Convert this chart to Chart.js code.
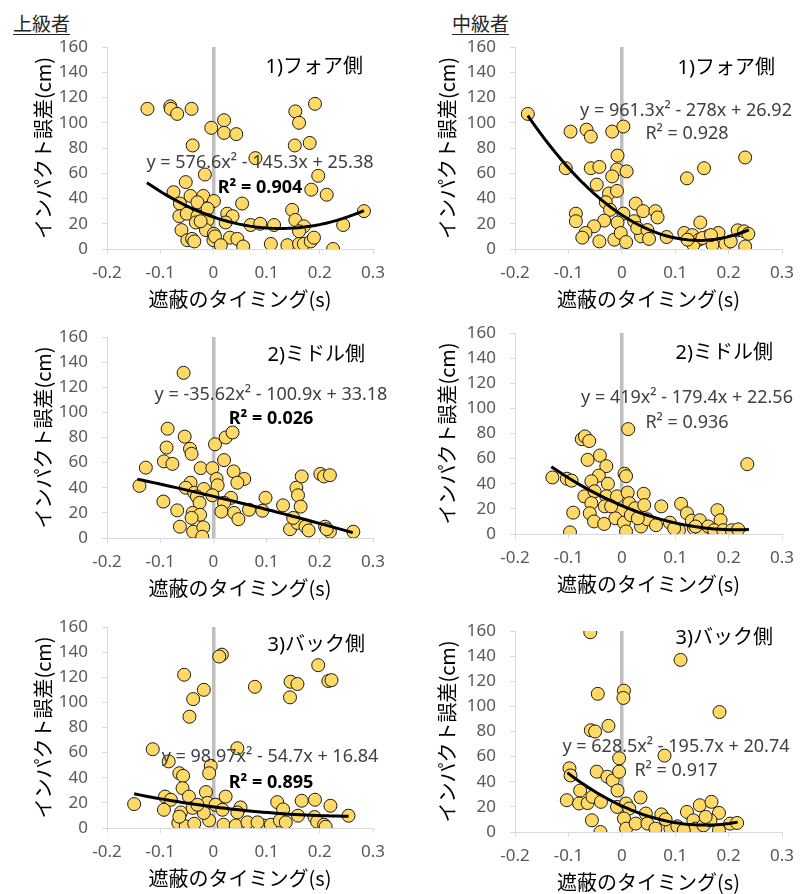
<!DOCTYPE html>
<html>
<head>
<meta charset="utf-8">
<script src="https://cdn.jsdelivr.net/npm/chart.js@4"></script>
<style>
body { margin: 0; background: #fff; width: 802px; height: 894px; position: relative; overflow: hidden; }
canvas { position: absolute; }
.head { position: absolute; top: 12px; font: 19px/22px 'Noto Sans CJK JP', sans-serif; color: #262626; text-decoration: underline; text-underline-offset: 3px; }
</style>
</head>
<body>
<div class="head" style="left:13px">上級者</div>
<div class="head" style="left:452px">中級者</div>
<script>
// x: 遮蔽のタイミング(s), y: インパクト誤差(cm)
var xTicks = [-0.2, -0.1, 0, 0.1, 0.2, 0.3];
var yTicks = [0, 20, 40, 60, 80, 100, 120, 140, 160];

// 上級者 1)フォア側
var advFore = [[-0.124,111],[-0.081,113],[-0.080,111],[-0.068,107],[-0.041,111],[0.020,102],[-0.004,96],[0.020,92],[0.043,91],[-0.039,82],[0.154,109],[0.161,100],[0.191,115],[0.153,82],[0.181,84],[0.079,72],[-0.016,59],[0.197,58],[-0.052,53],[0.184,47],[0.213,43],[-0.075,45],[-0.043,42],[-0.019,42],[-0.063,36],[-0.030,37],[0.001,38],[0.054,36],[-0.011,32],[-0.064,26],[-0.050,28],[-0.030,26],[-0.011,23],[0.026,28],[0.036,26],[0.023,21],[-0.033,21],[0.148,31],[0.154,23],[0.070,19],[0.088,20],[0.114,19],[0.170,18],[0.161,14],[0.244,19],[0.283,30],[-0.060,15],[-0.014,15],[0.001,12],[-0.049,7],[-0.040,8],[-0.036,6],[0.000,7],[0.003,10],[0.031,9],[0.014,3],[0.045,8],[0.056,2],[0.108,4],[0.139,3],[0.161,4],[0.170,4],[0.183,6],[0.189,9],[0.225,0],[-0.024,22]];
// 中級者 1)フォア側
var midFore = [[-0.176,107],[-0.096,93],[-0.066,94.5],[-0.058,89],[-0.018,93],[0.003,97],[-0.008,74],[-0.105,64],[-0.058,64],[-0.042,65],[-0.009,63],[0.009,61.5],[-0.018,57.5],[-0.047,51],[-0.024,44],[-0.009,46],[0.122,56],[0.154,64],[0.231,72.5],[-0.030,37],[0.026,36],[-0.022,31],[0.003,28],[0.040,30],[0.063,30],[0.067,25],[-0.086,28],[-0.086,22],[-0.033,22.5],[-0.008,21],[0.023,22],[-0.052,18],[-0.068,12.7],[-0.074,9],[-0.042,6],[-0.014,7.4],[-0.002,12.7],[0.008,5.5],[0.036,10],[0.029,16.6],[0.048,15],[0.051,8],[0.084,9.5],[0.117,12.7],[0.132,11],[0.147,21],[0.145,7.4],[0.134,3.4],[0.161,10],[0.170,3.4],[0.181,12.7],[0.194,4],[0.204,6],[0.217,14.8],[0.229,14],[0.237,12],[0.231,2],[0.151,8.7],[0.123,7.4],[0.167,11]];
// 上級者 2)ミドル側
var advMid = [[-0.056,131.5],[-0.086,87],[-0.054,80.7],[-0.044,71],[-0.041,67],[-0.088,72],[-0.093,61],[-0.077,59],[-0.127,56],[-0.139,41.5],[0.003,74.6],[0.023,80],[0.036,84],[0.020,62],[-0.024,55.6],[-0.002,55.6],[0.006,47],[0.038,53],[0.058,47],[0.045,44],[0.008,42],[-0.043,44],[-0.052,40],[-0.036,36],[-0.018,39],[-0.002,34],[-0.031,33],[0.033,32],[0.098,32],[0.020,28],[-0.026,28],[-0.094,29],[-0.068,22],[-0.039,20],[-0.025,18.5],[0.015,21],[0.039,20],[0.047,15],[0.067,22.5],[0.092,21.7],[0.131,26],[0.156,40],[0.166,49],[0.159,34],[0.164,25],[0.201,51],[0.208,49],[0.219,50],[-0.063,9],[-0.038,5],[-0.019,8.5],[-0.021,1],[-0.041,16],[0.144,7],[0.158,12],[0.173,9],[0.179,6],[0.210,9],[0.219,5],[0.263,5],[0.150,16],[0.213,7]];
// 中級者 2)ミドル側
var midMid = [[-0.130,45],[-0.103,44],[-0.094,42.5],[-0.091,17],[-0.097,1.3],[-0.075,75.5],[-0.069,77.7],[-0.061,74],[-0.064,59],[-0.041,62.5],[-0.029,54],[-0.043,46.5],[-0.057,42],[-0.026,40],[0.005,48],[0.008,46],[0.012,83.5],[-0.070,30],[-0.051,34],[-0.029,30],[-0.009,30],[0.011,33],[0.041,32],[-0.057,24.5],[-0.032,22],[-0.001,18],[0.014,24.5],[0.025,20.5],[0.042,23],[0.074,22],[-0.060,16.5],[-0.052,10],[-0.033,8],[-0.012,12.5],[0.004,9],[0.008,2],[0.036,6],[0.048,11.7],[0.064,7],[0.090,9],[0.111,24],[0.122,16.5],[0.131,10.6],[0.135,4.5],[0.146,11],[0.150,2],[0.162,6],[0.179,19],[0.185,11],[0.173,3],[0.190,3],[0.206,3],[0.218,3.7],[0.235,55.6],[0.107,3],[0.098,4.5],[-0.020,22],[0.017,15],[0.030,12.5],[0.138,6]];
// 上級者 3)バック側
var advBack = [[0.016,138],[0.011,136.5],[-0.055,122],[-0.018,110],[-0.038,102.6],[-0.045,88.6],[0.078,112.4],[0.145,116.4],[0.158,114.6],[0.144,104],[0.197,129.6],[0.216,117],[0.222,117.7],[-0.114,62.7],[0.045,63.5],[-0.084,53],[-0.005,49.5],[-0.008,43.6],[-0.064,43.6],[-0.057,41.5],[-0.058,31.7],[-0.046,25],[-0.014,28.6],[-0.091,25],[-0.080,22.5],[-0.149,19],[0.023,25],[-0.093,14.5],[-0.061,12.4],[-0.039,16],[-0.011,20],[0.004,18.5],[0.017,14.5],[0.051,16.4],[0.045,12.4],[0.120,20.6],[0.131,14.8],[0.166,21.7],[0.191,22.5],[0.220,17.7],[0.159,9.8],[0.190,8.7],[0.254,9.8],[-0.066,4],[-0.052,1.3],[-0.036,3.4],[-0.008,6],[0.019,2.6],[0.042,2],[0.064,4.5],[0.094,2],[0.108,2.6],[0.125,6],[0.136,4.5],[0.195,5],[0.208,2.6],[0.211,1],[0.083,4.5],[-0.064,9],[-0.018,12],[-0.030,18.5]];
// 中級者 3)バック側
var midBack = [[-0.059,159],[0.110,137],[-0.045,110],[0.004,112.5],[0.003,106.7],[0.183,95.5],[-0.058,81],[-0.050,80],[-0.025,84.5],[0.080,60.8],[-0.005,58.7],[-0.098,50.7],[-0.096,45],[-0.047,48],[-0.027,44],[-0.017,41],[-0.005,48],[-0.008,33],[-0.078,33],[0.035,27.5],[-0.103,25.3],[-0.080,22.7],[-0.064,23],[-0.055,28],[-0.039,24],[-0.009,20],[0.008,22.7],[0.014,18.7],[-0.056,9.3],[-0.040,0],[0.004,10.7],[0.008,2.7],[0.026,6.7],[0.045,14.7],[0.048,6.7],[0.063,2.7],[0.074,14],[0.091,2.7],[0.104,4.5],[0.122,16],[0.134,9.3],[0.146,21.3],[0.168,24],[0.182,15.2],[0.138,2.7],[0.153,5.3],[0.166,9.3],[0.182,1.3],[0.203,6.7],[0.216,7.2],[0.116,1.3],[0.082,10],[0.157,12]];

// 2次の近似曲線 (a, b, c) と描画範囲
var advForeFit = [576.6, -145.3, 25.38], advForeRange = [-0.125, 0.283];
var midForeFit = [961.3, -278, 26.92], midForeRange = [-0.176, 0.238];
var advMidFit = [-35.62, -100.9, 33.18], advMidRange = [-0.143, 0.262];
var midMidFit = [419, -179.4, 22.56], midMidRange = [-0.132, 0.238];
var advBackFit = [98.97, -54.7, 16.84], advBackRange = [-0.149, 0.254];
var midBackFit = [628.5, -195.7, 20.74], midBackRange = [-0.102, 0.217];

var FONT = "'Noto Sans', 'Noto Sans CJK JP', sans-serif";
var JP = "'Noto Sans CJK JP', sans-serif";

function trendPoints(fit, range) {
    var pts = [];
    var n = 40;
    for (var i = 0; i <= n; i++) {
        var x = range[0] + (range[1] - range[0]) * i / n;
        pts.push({x: x, y: fit[0] * x * x + fit[1] * x + fit[2]});
    }
    return pts;
}

// panel label, equation and R² drawn inside the plot
var panelText = {
    id: 'panelText',
    afterDatasetsDraw: function (chart, args, o) {
        var ctx = chart.ctx;
        ctx.save();
        ctx.textBaseline = 'middle';
        ctx.fillStyle = '#000';
        ctx.font = '20px ' + FONT;
        ctx.textAlign = 'right';
        ctx.fillText(o.label, o.labelPos[0] - o.left, o.labelPos[1] - o.top);
        ctx.textAlign = 'center';
        ctx.fillStyle = '#404040';
        ctx.font = '18px ' + FONT;
        ctx.fillText(o.eq, o.eqPos[0] - o.left, o.eqPos[1] - o.top);
        if (o.bold) {
            ctx.fillStyle = '#000';
            ctx.font = 'bold 18px ' + FONT;
        }
        ctx.fillText(o.r2, o.r2Pos[0] - o.left, o.r2Pos[1] - o.top);
        ctx.restore();
    }
};

function makePanel(p) {
    var canvas = document.createElement('canvas');
    canvas.width = p.yw + p.w + 18;
    canvas.height = 15 + p.h + 62;
    canvas.style.left = p.left + 'px';
    canvas.style.top = p.top + 'px';
    document.body.appendChild(canvas);

    new Chart(canvas, {
        type: 'scatter',
        data: {
            datasets: [{
                data: p.points.map(function (d) { return {x: d[0], y: d[1]}; }),
                backgroundColor: '#ffd966',
                borderColor: '#1a1a1a',
                borderWidth: 1,
                pointRadius: 6.5,
                order: 1
            }, {
                type: 'line',
                data: trendPoints(p.fit, p.range),
                showLine: true,
                borderColor: '#000',
                borderWidth: 3,
                pointRadius: 0,
                tension: 0,
                fill: false,
                order: 0
            }]
        },
        options: {
            responsive: false,
            animation: false,
            layout: { padding: { top: 15, right: 18, left: 0, bottom: 0 } },
            plugins: {
                legend: { display: false },
                tooltip: { enabled: false },
                panelText: {
                    left: p.left, top: p.top, label: p.label, eq: p.eq, r2: p.r2, bold: p.bold,
                    labelPos: p.labelPos, eqPos: p.eqPos, r2Pos: p.r2Pos
                }
            },
            scales: {
                x: {
                    type: 'linear',
                    min: xTicks[0],
                    max: xTicks[xTicks.length - 1],
                    afterBuildTicks: function (s) { s.ticks = xTicks.map(function (v) { return {value: v}; }); },
                    afterFit: function (s) {
                        s.height = 62;
                        s.paddingLeft = s.paddingRight = s.paddingTop = s.paddingBottom = 0;
                    },
                    border: { color: '#d9d9d9', width: 1 },
                    grid: {
                        drawOnChartArea: true,
                        drawTicks: true,
                        tickLength: 5,
                        tickColor: '#d9d9d9',
                        tickWidth: 1,
                        color: function (c) {
                            return c.tick && Math.abs(c.tick.value) < 1e-9 ? '#bfbfbf' : 'rgba(0,0,0,0)';
                        },
                        lineWidth: function (c) {
                            return c.tick && Math.abs(c.tick.value) < 1e-9 ? 3.5 : 1;
                        }
                    },
                    ticks: {
                        padding: 9,
                        color: '#595959',
                        font: { family: FONT, size: 17 },
                        callback: function (v) { return String(Math.round(v * 10) / 10); }
                    },
                    title: {
                        display: true,
                        text: '遮蔽のタイミング(s)',
                        color: '#000',
                        padding: 0,
                        font: { family: JP, size: 20 }
                    }
                },
                y: {
                    type: 'linear',
                    min: yTicks[0],
                    max: yTicks[yTicks.length - 1],
                    afterBuildTicks: function (s) { s.ticks = yTicks.map(function (v) { return {value: v}; }); },
                    afterFit: function (s) {
                        s.width = p.yw;
                        s.paddingLeft = s.paddingRight = s.paddingTop = s.paddingBottom = 0;
                    },
                    border: { color: '#d9d9d9', width: 1 },
                    grid: {
                        drawOnChartArea: false,
                        drawTicks: true,
                        tickLength: 5,
                        tickColor: '#d9d9d9'
                    },
                    ticks: {
                        padding: 14,
                        color: '#595959',
                        font: { family: FONT, size: 17 }
                    },
                    title: {
                        display: true,
                        text: 'インパクト誤差(cm)',
                        color: '#000',
                        padding: 0,
                        font: { family: JP, size: 20 }
                    }
                }
            }
        },
        plugins: [panelText]
    });
}

var panels = [
    { points: advFore, fit: advForeFit, range: advForeRange, left: 31, top: 32, yw: 76, w: 266, h: 202,
      label: '1)フォア側', eq: 'y = 576.6x² - 145.3x + 25.38', r2: 'R² = 0.904', bold: true,
      labelPos: [363, 67], eqPos: [260, 163], r2Pos: [260, 188] },
    { points: midFore, fit: midForeFit, range: midForeRange, left: 435, top: 32, yw: 80, w: 267, h: 202,
      label: '1)フォア側', eq: 'y = 961.3x² - 278x + 26.92', r2: 'R² = 0.928', bold: false,
      labelPos: [775, 68], eqPos: [686, 111], r2Pos: [687, 134] },
    { points: advMid, fit: advMidFit, range: advMidRange, left: 31, top: 322, yw: 76, w: 266, h: 201,
      label: '2)ミドル側', eq: 'y = -35.62x² - 100.9x + 33.18', r2: 'R² = 0.026', bold: true,
      labelPos: [365, 355], eqPos: [271, 395], r2Pos: [271, 419] },
    { points: midMid, fit: midMidFit, range: midMidRange, left: 435, top: 318, yw: 80, w: 267, h: 201,
      label: '2)ミドル側', eq: 'y = 419x² - 179.4x + 22.56', r2: 'R² = 0.936', bold: false,
      labelPos: [773, 353], eqPos: [687, 398], r2Pos: [687, 423] },
    { points: advBack, fit: advBackFit, range: advBackRange, left: 31, top: 612, yw: 76, w: 266, h: 201,
      label: '3)バック側', eq: 'y = 98.97x² - 54.7x + 16.84', r2: 'R² = 0.895', bold: true,
      labelPos: [365, 645], eqPos: [270, 757], r2Pos: [271, 783] },
    { points: midBack, fit: midBackFit, range: midBackRange, left: 435, top: 616, yw: 80, w: 267, h: 201,
      label: '3)バック側', eq: 'y = 628.5x² - 195.7x + 20.74', r2: 'R² = 0.917', bold: false,
      labelPos: [773, 638], eqPos: [676, 747], r2Pos: [676, 771] }
];

panels.forEach(makePanel);
</script>
</body>
</html>
